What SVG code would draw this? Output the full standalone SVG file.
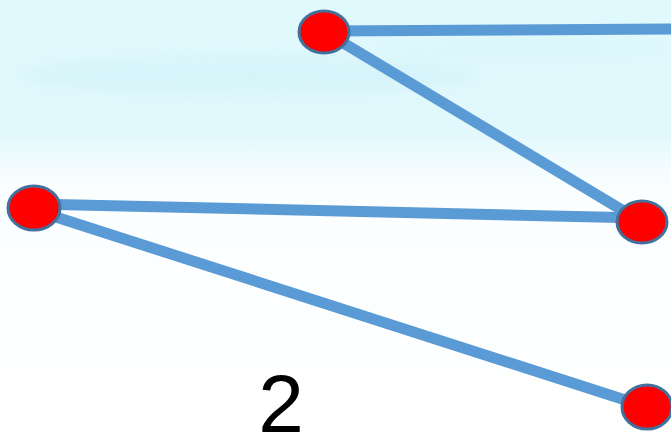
<svg xmlns="http://www.w3.org/2000/svg" width="671" height="439" viewBox="0 0 671 439">
<defs>
<linearGradient id="sky" x1="0" y1="0" x2="0" y2="1">
<stop offset="0" stop-color="#E0F9FD"/>
<stop offset="0.30" stop-color="#E1F8FC"/>
<stop offset="0.38" stop-color="#F3FCFE"/>
<stop offset="0.44" stop-color="#FBFEFF"/>
<stop offset="1" stop-color="#FFFFFF"/>
</linearGradient>
<filter id="blur" x="-20%" y="-50%" width="140%" height="200%"><feGaussianBlur stdDeviation="7"/></filter>
<style>
.edge{stroke:#5B9BD5;stroke-width:11;fill:none}
.node{fill:#FF0000;stroke:#41719C;stroke-width:3}
.lbl{font-family:"Liberation Sans",Arial,sans-serif;font-size:82px;fill:#000}
</style>
</defs>
<rect width="671" height="439" fill="url(#sky)"/>
<ellipse cx="250" cy="75" rx="230" ry="20" fill="#D3F3F9" opacity="0.7" filter="url(#blur)"/>
<ellipse cx="520" cy="48" rx="150" ry="12" fill="#D8F5FA" opacity="0.6" filter="url(#blur)"/>
<g id="connectors">
<line class="edge" x1="325" y1="31" x2="671" y2="29"/>
<line class="edge" x1="325" y1="32" x2="642" y2="222"/>
<line class="edge" x1="34" y1="204" x2="642" y2="218"/>
<line class="edge" x1="34" y1="210" x2="647" y2="407"/>
</g>
<g id="nodeA"><ellipse class="node" cx="324" cy="32" rx="25" ry="21"/></g>
<g id="nodeB"><ellipse class="node" cx="34" cy="208" rx="26" ry="22"/></g>
<g id="nodeC"><ellipse class="node" cx="642" cy="222" rx="25" ry="21"/></g>
<g id="nodeD"><ellipse class="node" cx="647" cy="407" rx="25" ry="22"/></g>
<g id="label"><text class="lbl" x="281" y="432" text-anchor="middle">2</text></g>
</svg>
